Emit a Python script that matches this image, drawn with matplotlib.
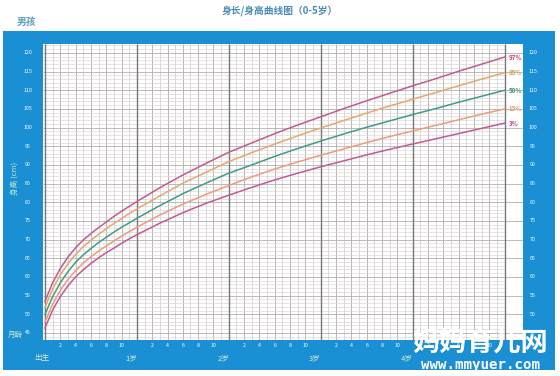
import numpy as np
import matplotlib
matplotlib.use("Agg")
from matplotlib import pyplot as plt
from matplotlib.patches import Rectangle

plt.rcParams['font.family'] = ['Noto Sans CJK SC', 'DejaVu Sans']

# Boys height percentiles (cm) by month of age
months = [0, 1, 2, 3, 4, 5, 6, 7, 8, 9, 10, 11, 12,
          15, 18, 21, 24, 27, 30, 33, 36, 39, 42, 45, 48, 51, 54, 57, 60]
p3 = [46.3, 51.1, 54.7, 57.6, 60.0, 61.9, 63.6, 65.1, 66.5, 67.7, 69.0, 70.2, 71.3,
      74.4, 77.2, 79.7, 81.9, 84.0, 86.0, 87.8, 89.5, 91.1, 92.7, 94.2, 95.6, 97.0, 98.4, 99.8, 101.2]
p15 = [47.9, 52.7, 56.4, 59.3, 61.7, 63.7, 65.4, 66.9, 68.3, 69.6, 70.9, 72.1, 73.3,
       76.6, 79.5, 82.1, 84.5, 86.8, 88.9, 90.8, 92.6, 94.3, 96.0, 97.6, 99.1, 100.6, 102.1, 103.6, 105.0]
p50 = [49.9, 54.7, 58.4, 61.4, 63.9, 65.9, 67.6, 69.2, 70.6, 72.0, 73.3, 74.5, 75.7,
       79.1, 82.3, 85.1, 87.8, 90.0, 92.3, 94.4, 96.4, 98.3, 100.1, 101.8, 103.5, 105.1, 106.8, 108.4, 110.0]
p85 = [51.8, 56.7, 60.5, 63.5, 66.0, 68.1, 69.8, 71.4, 72.9, 74.3, 75.6, 77.0, 78.2,
       81.7, 85.1, 88.0, 90.9, 93.3, 95.6, 97.8, 99.9, 101.9, 103.9, 105.8, 107.6, 109.4, 111.2, 113.0, 114.7]
p97 = [53.4, 58.4, 62.2, 65.3, 67.8, 69.9, 71.6, 73.2, 74.7, 76.2, 77.6, 78.9, 80.2,
       83.9, 87.3, 90.4, 93.4, 95.9, 98.4, 100.7, 102.9, 105.1, 107.2, 109.2, 111.2, 113.1, 115.1, 117.0, 118.9]

curve_labels = ["97%", "85%", "50%", "15%", "3%"]
curve_colors = ["#c25a92", "#e2a872", "#3f9c82", "#ea9c7e", "#c25a92"]
label_colors = ["#d0406a", "#d8a050", "#3f9c82", "#e8a070", "#c4457f"]

y_ticks = list(range(45, 125, 5))
year_labels = ["出生", "1岁", "2岁", "3岁", "4岁"]
month_ticks = [2, 4, 6, 8, 10]

BLUE = "#1b8fd3"

fig = plt.figure(figsize=(5.6, 3.76), dpi=100)
fig.patch.set_facecolor("white")

# blue frame, behind the plot
fig.patches.append(Rectangle((3 / 560, 1 - 370 / 376), 552 / 560, 339 / 376,
                             transform=fig.transFigure, facecolor=BLUE,
                             edgecolor="none", zorder=-5))

ax = fig.add_axes([43 / 560, 1 - 340 / 376, 480 / 560, 296 / 376])
ax.set_zorder(1)
ax.set_facecolor("white")
ax.set_xlim(-0.25, 62.4)
ax.set_ylim(43.1, 122.4)

# grid
for m in range(0, 61):
    if m % 12 == 0:
        ax.vlines(m, 43.1, 122.4, color="#787878", lw=1.0, zorder=2)
    elif m % 2 == 0:
        ax.vlines(m, 43.1, 122.4, color="#ababab", lw=0.6, zorder=1)
    else:
        ax.vlines(m, 43.1, 122.4, color="#cacaca", lw=0.5, zorder=1)
for c in range(44, 123):
    if c % 5 == 0:
        ax.hlines(c, -0.25, 62.4, color="#b4b0b0", lw=0.6, zorder=1)
    else:
        ax.hlines(c, -0.25, 60, color="#dcd2d2", lw=0.45, zorder=1)

series = [p97, p85, p50, p15, p3]
for vals, lab, col, lcol in zip(series, curve_labels, curve_colors, label_colors):
    ax.plot(months, vals, color=col, lw=1.1, zorder=3)
    ax.text(60.5, vals[-1], lab, color=lcol, fontsize=4.5, fontweight="bold",
            ha="left", va="center", zorder=4)

ax.set_xticks([])
ax.set_yticks([])
for s in ax.spines.values():
    s.set_visible(False)

# y tick labels on both sides
for v in y_ticks:
    ax.annotate(str(v), xy=(0, v), xycoords=("axes fraction", "data"),
                xytext=(-11, 0), textcoords="offset points", color="white",
                fontsize=3.8, ha="center", va="center", annotation_clip=False)
    ax.annotate(str(v), xy=(1, v), xycoords=("axes fraction", "data"),
                xytext=(7, 0), textcoords="offset points", color="white",
                fontsize=3.8, ha="center", va="center", annotation_clip=False)

# month tick labels
for yr in range(5):
    for m in month_ticks:
        ax.annotate(str(m), xy=(yr * 12 + m, 0), xycoords=("data", "axes fraction"),
                    xytext=(0, -4), textcoords="offset points", color="white",
                    fontsize=3.8, ha="center", va="center", annotation_clip=False)
    ax.annotate(year_labels[yr], xy=(yr * 12, 0), xycoords=("data", "axes fraction"),
                xytext=(-2 if yr == 0 else -4, -13), textcoords="offset points",
                color="#d6efd0", fontsize=5.5, ha="center", va="center",
                annotation_clip=False)

fig.text(15 / 560, 1 - 335 / 376, "月龄", color="#d6efd0", fontsize=5.5,
         ha="center", va="center")
fig.text(16 / 560, 1 - 178 / 376, "身高 (cm)", color="#bfe8c8", fontsize=5.5,
         rotation=90, ha="center", va="center")

fig.text(280 / 560, 1 - 11 / 376, "身长/身高曲线图（0-5岁）", color="#4a8db5",
         fontsize=7, fontweight="bold", ha="center", va="center")
fig.text(26 / 560, 1 - 22 / 376, "男孩", color="#5f9fbf", fontsize=7,
         fontweight="bold", ha="center", va="center")

# watermark
fig.text(480 / 560, 1 - 343 / 376, "妈妈育儿网", color="white", fontsize=19.5,
         fontweight="bold", ha="center", va="center", zorder=5)
fig.text(481 / 560, 1 - 365 / 376, "www.mmyuer.com", color="white", fontsize=10.2,
         fontweight="bold", ha="center", va="center", family="DejaVu Sans Mono",
         zorder=5)

fig.savefig("out.png", dpi=100, facecolor="white")
